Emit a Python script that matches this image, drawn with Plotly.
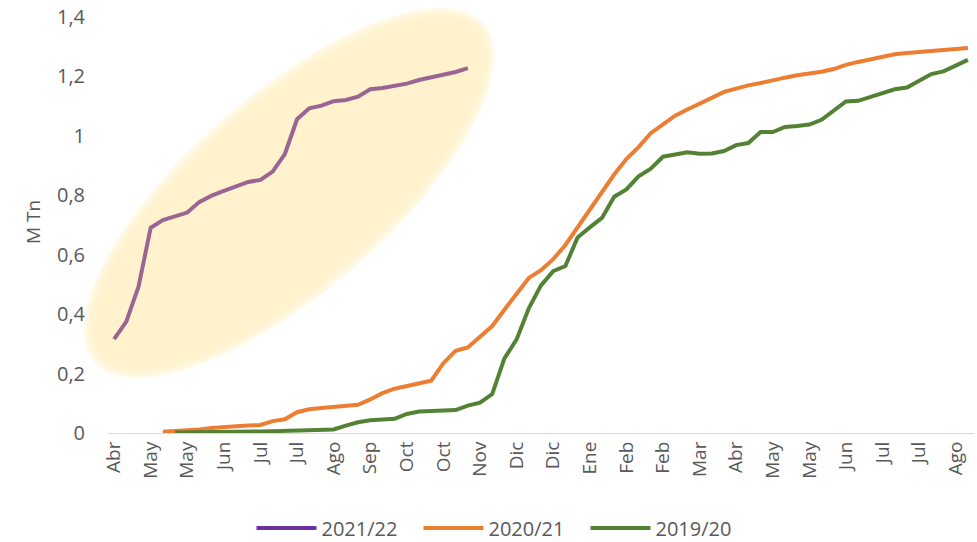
import math
import plotly.graph_objects as go

# ---------------- data ----------------
weeks = list(range(71))  # weekly categories, index 0 = first week of April
tick_weeks = list(range(0, 71, 3))
tick_labels = ["Abr", "May", "May", "Jun", "Jul", "Jul", "Ago", "Sep", "Oct", "Oct",
               "Nov", "Dic", "Dic", "Ene", "Feb", "Feb", "Mar", "Abr", "May", "May",
               "Jun", "Jul", "Jul", "Ago"]
y_ticks = [0, 0.2, 0.4, 0.6, 0.8, 1.0, 1.2, 1.4]

s2122 = [0.316, 0.375, 0.492, 0.691, 0.717, 0.728, 0.742, 0.778, 0.799, 0.815,
         0.829, 0.845, 0.852, 0.880, 0.939, 1.056, 1.093, 1.102, 1.117, 1.121,
         1.132, 1.157, 1.161, 1.167, 1.176, 1.188, 1.197, 1.205, 1.215, 1.228]
start_2122 = 0

s2021 = [0.004, 0.006, 0.008, 0.012, 0.017, 0.021, 0.023, 0.025, 0.027, 0.040,
         0.046, 0.070, 0.080, 0.084, 0.087, 0.091, 0.095, 0.113, 0.134, 0.149,
         0.158, 0.169, 0.176, 0.235, 0.277, 0.288, 0.325, 0.360, 0.415, 0.470,
         0.522, 0.548, 0.585, 0.633, 0.692, 0.750, 0.810, 0.870, 0.922, 0.962,
         1.009, 1.040, 1.068, 1.089, 1.107, 1.128, 1.148, 1.160, 1.170, 1.178,
         1.188, 1.196, 1.204, 1.209, 1.216, 1.225, 1.239, 1.249, 1.258, 1.265,
         1.275, 1.279, 1.282, 1.285, 1.288, 1.292, 1.296]
start_2021 = 4

s1920 = [0.002, 0.002, 0.003, 0.003, 0.003, 0.004, 0.005, 0.005, 0.006, 0.007,
         0.008, 0.009, 0.010, 0.012, 0.025, 0.036, 0.043, 0.046, 0.048, 0.064,
         0.072, 0.074, 0.075, 0.077, 0.092, 0.102, 0.131, 0.251, 0.315, 0.420,
         0.497, 0.545, 0.562, 0.658, 0.692, 0.724, 0.795, 0.820, 0.864, 0.890,
         0.930, 0.939, 0.945, 0.940, 0.941, 0.949, 0.969, 0.976, 1.013, 1.013,
         1.030, 1.033, 1.038, 1.054, 1.085, 1.116, 1.118, 1.131, 1.145, 1.157,
         1.163, 1.186, 1.208, 1.217, 1.236, 1.256]
start_1920 = 5

series_names = ["2021/22", "2020/21", "2019/20"]

# ---------------- styling ----------------
W, H = 977, 542
ML, MR, MT, MB = 108, 3, 17, 109
XR = [-0.5, 70.5]
YR = [0, 1.4002]
FONT = "Open Sans"
GREY = "#595959"

plot_w = W - ML - MR
plot_h = H - MT - MB


def to_paper(px, py):
    """page pixel -> paper coords"""
    return (px - ML) / plot_w, (H - MB - py) / plot_h


fig = go.Figure()

# highlight ellipse (decoration, paper coords so it may leave the plot area)
cxp, cyp = 289.0, 193.0       # centre in page pixels
a0, b0, ang = 250, 91, math.radians(41)
for d in [8, 5, 2, -1, -4, -7]:
    a, b = a0 + d, b0 + d
    pts = []
    for k in range(121):
        t = 2 * math.pi * k / 120
        dx = a * math.cos(t) * math.cos(ang) - b * math.sin(t) * math.sin(ang)
        dy = a * math.cos(t) * math.sin(ang) + b * math.sin(t) * math.cos(ang)
        pts.append(to_paper(cxp + dx, cyp - dy))
    path = "M " + " L ".join(f"{x:.5f},{y:.5f}" for x, y in pts) + " Z"
    fig.add_shape(type="path", path=path, xref="paper", yref="paper", layer="below",
                  fillcolor="#FFF2CC", opacity=0.45, line=dict(width=0))

line_cols = ["#9A6592", "#ED7D31", "#548235"]
legend_cols = ["#7030A0", "#ED7D31", "#548235"]
data = [(s2122, start_2122), (s2021, start_2021), (s1920, start_1920)]

for name, (vals, st), lc in zip(series_names, data, line_cols):
    fig.add_trace(go.Scatter(x=weeks[st:st + len(vals)], y=vals, mode="lines",
                             line=dict(color=lc, width=4), name=name,
                             showlegend=False))
for name, lc in zip(series_names, legend_cols):
    fig.add_trace(go.Scatter(x=[None], y=[None], mode="lines",
                             line=dict(color=lc, width=4), name=name))

tx, ty = to_paper(33, 222)
fig.add_annotation(text="M Tn", xref="paper", yref="paper", x=tx, y=ty,
                   xanchor="center", yanchor="middle", textangle=-90,
                   showarrow=False, font=dict(size=19, color=GREY, family=FONT))

lx, ly = to_paper(502, 528)
fig.update_layout(
    width=W, height=H,
    margin=dict(l=ML, r=MR, t=MT, b=MB, autoexpand=False),
    paper_bgcolor="white", plot_bgcolor="white",
    separators=",.",
    font=dict(family=FONT, color=GREY, size=19),
    showlegend=True,
    legend=dict(orientation="h", x=lx, xanchor="center", y=ly, yanchor="middle",
                font=dict(size=20, color=GREY), entrywidth=92, itemwidth=60),
)
fig.update_xaxes(range=XR, tickmode="array", tickvals=tick_weeks, ticktext=tick_labels,
                 tickangle=-90, showgrid=False, zeroline=False, showline=True,
                 linecolor="#D9D9D9", linewidth=1, ticks="", automargin=False,
                 tickfont=dict(size=19, color=GREY))
fig.update_yaxes(range=YR, tickmode="array", tickvals=y_ticks, showgrid=False,
                 zeroline=False, showline=False, ticklabeloverflow="allow",
                 ticks="", ticklabelstandoff=22, automargin=False,
                 tickfont=dict(size=20, color=GREY))

# remove the default page margin so the figure fills the window exactly
fig.write_html("out.html", config={"displayModeBar": False},
               post_script="document.body.style.margin='0';document.body.style.overflow='hidden';")
